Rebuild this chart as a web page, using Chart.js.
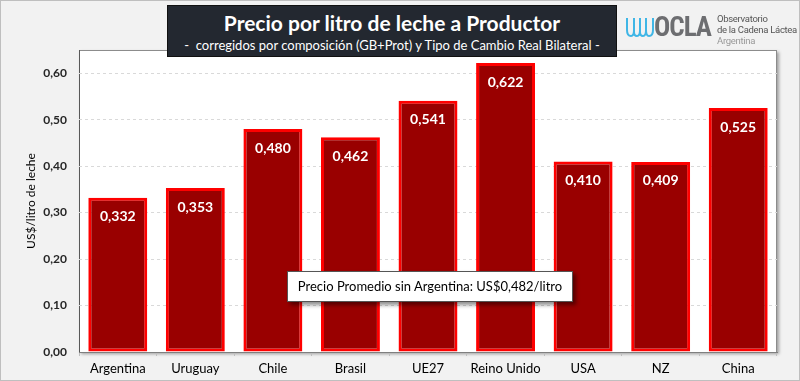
<!DOCTYPE html>
<html><head><meta charset="utf-8">
<script src="https://cdn.jsdelivr.net/npm/chart.js@4.4.0/dist/chart.umd.min.js"></script>
<style>
html,body{margin:0;padding:0;background:#f2f2f2;}
#wrap{position:relative;width:800px;height:381px;overflow:hidden;font-family:Lato,"Open Sans",sans-serif;}
#frame{position:absolute;left:0;top:0;width:798px;height:379px;border:1px solid #bfbfbf;pointer-events:none;}
canvas{position:absolute;left:0;top:0;}
#titlebox{position:absolute;left:167px;top:5px;width:448px;height:50px;background:#232830;border:1px solid #111;color:#fff;text-align:center;}
#t1{font-weight:bold;font-size:21px;margin-top:4px;line-height:26px;}
#t2{font-size:13px;line-height:16px;margin-top:1px;}
#logo{position:absolute;left:625px;top:10px;width:172px;height:40px;}
#ocla{position:absolute;left:29px;top:1px;font-family:"Roboto Condensed",Roboto,sans-serif;font-weight:bold;font-size:27px;color:#6d6e71;letter-spacing:-1px;}
#obs{position:absolute;left:92px;top:3px;font-size:9.5px;line-height:11px;color:#555;font-family:Roboto,sans-serif;white-space:nowrap;letter-spacing:-0.3px;}
#obs .arg{color:#999;}
#note{position:absolute;left:287px;top:271px;width:284px;height:29px;background:#fff;border:1px solid #555;box-shadow:3px 3px 4px rgba(0,0,0,0.45);font-size:13px;line-height:29px;text-align:center;color:#000;font-family:Lato,sans-serif;}
</style></head>
<body>
<div id="wrap">
<canvas id="c" width="800" height="381"></canvas>
<div id="titlebox"><div id="t1">Precio por litro de leche a Productor</div><div id="t2">-&nbsp; corregidos por composición (GB+Prot) y Tipo de Cambio Real Bilateral -</div></div>
<div id="logo">
<svg width="30" height="26" style="position:absolute;left:0;top:4px" viewBox="0 0 30 26"><path d="M2 4 V16 Q2 22 6 22 Q9 22 9 16 V4 M9 8 V18 Q9 22 12 22 Q15 22 15 16 V4 M15 6 V18 Q15 22 18 22 Q21 22 21 16 V4 M21 6 V16 Q21 22 24 22 Q28 22 28 16 V4" fill="none" stroke="#3fb6e6" stroke-width="2"/></svg>
<div id="ocla">OCLA</div>
<div id="obs">Observatorio<br>de la Cadena Láctea<br><span class="arg">Argentina</span></div>
</div>
<div id="note">Precio Promedio sin Argentina: US$0,482/litro</div>
<div id="frame"></div>
</div>
<script>
const categories = ["Argentina","Uruguay","Chile","Brasil","UE27","Reino Unido","USA","NZ","China"];
const prices = [0.332,0.353,0.480,0.462,0.541,0.622,0.410,0.409,0.525];
const yTitle = "US$/litro de leche";

const bgPlugin = {
  id:'bg',
  beforeDraw(chart){
    const {ctx, chartArea:a} = chart;
    ctx.save();
    ctx.fillStyle='#f2f2f2';
    ctx.fillRect(0,0,chart.width,chart.height);
    ctx.shadowColor='rgba(0,0,0,0.35)';
    ctx.shadowBlur=3;
    ctx.shadowOffsetX=2;
    ctx.shadowOffsetY=2;
    ctx.fillStyle='#ffffff';
    ctx.fillRect(a.left,a.top,a.right-a.left,a.bottom-a.top);
    ctx.shadowColor='transparent';
    ctx.strokeStyle='#8c8c8c';
    ctx.lineWidth=1;
    ctx.strokeRect(a.left+0.5,a.top+0.5,a.right-a.left-1,a.bottom-a.top);
    ctx.strokeStyle='#595959';
    ctx.beginPath();ctx.moveTo(a.left+0.5,a.top);ctx.lineTo(a.left+0.5,a.bottom);ctx.stroke();
    ctx.restore();
  }
};
const labelPlugin = {
  id:'vals',
  afterDatasetsDraw(chart){
    const {ctx} = chart;
    const meta = chart.getDatasetMeta(0);
    ctx.save();
    ctx.fillStyle='#ffffff';
    ctx.font='bold 14px Lato, sans-serif';
    ctx.textAlign='center';
    ctx.textBaseline='middle';
    meta.data.forEach((bar,i)=>{
      ctx.fillText(prices[i].toFixed(3).replace('.',','), bar.x, bar.y+19);
    });
    ctx.restore();
  }
};

new Chart(document.getElementById('c'),{
  type:'bar',
  data:{labels:categories,datasets:[{data:prices,backgroundColor:'#990000',borderColor:'#ff0000',borderWidth:3,borderSkipped:false,barPercentage:0.76,categoryPercentage:1}]},
  options:{
    responsive:false,animation:false,
    layout:{padding:{top:50,right:23,left:0,bottom:0}},
    plugins:{legend:{display:false},tooltip:{enabled:false},title:{display:false}},
    scales:{
      x:{
        grid:{display:true,drawOnChartArea:false,drawTicks:true,tickLength:4,color:'#bfbfbf',offset:true},
        border:{color:'#7f7f7f',width:1},
        ticks:{color:'#000',font:{family:'Lato',size:13},padding:5},
        afterFit(s){s.height=29;}
      },
      y:{
        min:0,max:0.65,
        afterBuildTicks(s){s.ticks=s.ticks.filter(t=>Math.abs(t.value*10-Math.round(t.value*10))<1e-6);},
        ticks:{stepSize:0.1,color:'#262626',font:{family:'Lato',size:12,weight:'bold'},padding:12,
          callback:v=>v.toFixed(2).replace('.',',')},
        grid:{color:(c)=>c.tick && c.tick.value===0?'rgba(0,0,0,0)':'#d9d9d9',drawTicks:false},
        border:{display:false,dash:[3,3]},
        title:{display:true,text:yTitle,color:'#000',font:{family:'Lato',size:12},padding:{top:24,bottom:0}},
        afterFit(s){s.width=79;}
      }
    }
  },
  plugins:[bgPlugin,labelPlugin]
});
</script>
</body></html>
